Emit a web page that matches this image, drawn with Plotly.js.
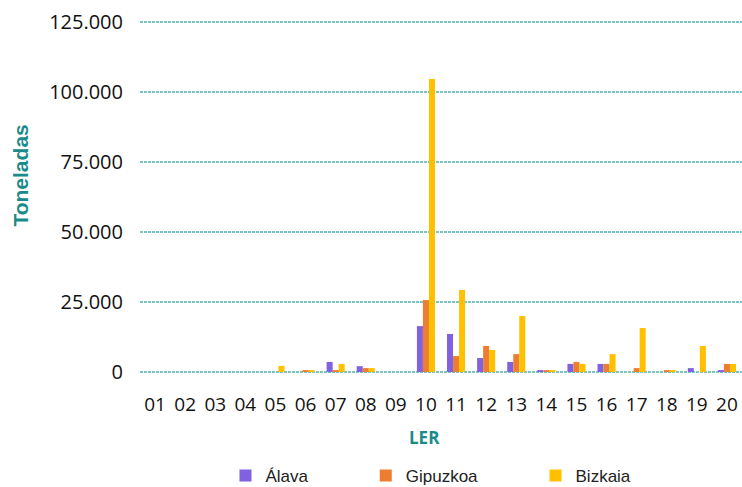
<!DOCTYPE html>
<html>
<head>
<meta charset="utf-8">
<script src="https://cdn.plot.ly/plotly-3.0.1.min.js"></script>
<style>
  html, body { margin: 0; padding: 0; background: #ffffff; }
  #chart { width: 742px; height: 487px; }
</style>
</head>
<body>
<div id="chart"></div>
<script>
// LER waste codes (chapters)
const categories = ['01','02','03','04','05','06','07','08','09','10',
                    '11','12','13','14','15','16','17','18','19','20'];

// Tonnes per territory
const alava    = [0, 0, 0, 0, 0,    0,   3600, 2100, 0, 16400, 13600, 5000, 3600, 700, 2900, 2900, 0,     0,   1400, 700];
const gipuzkoa = [0, 0, 0, 0, 0,    700, 700,  1400, 0, 25700, 5700,  9300, 6400, 700, 3600, 2900, 1400,  700, 0,    2900];
const bizkaia  = [0, 0, 0, 0, 2200, 700, 2900, 1400, 0, 104600, 29300, 7900, 20000, 700, 2900, 6400, 15700, 700, 9300, 2900];

const seriesNames  = ['Álava', 'Gipuzkoa', 'Bizkaia'];
const seriesColors = ['#8061E0', '#ED7D31', '#FFC000'];
const yTicks = [0, 25000, 50000, 75000, 100000, 125000];

const teal = '#1A8A8A';
const values = [alava, gipuzkoa, bizkaia];
const legendIds = ['legend', 'legend2', 'legend3'];

const traces = values.map((v, i) => ({
  type: 'bar',
  name: seriesNames[i],
  x: categories,
  y: v,
  marker: { color: seriesColors[i], line: { width: 0 } },
  legend: legendIds[i],
  hoverinfo: 'x+y+name'
}));

const legendFont = { family: 'Liberation Sans, Arial, sans-serif', size: 17, color: '#222' };
function legendAt(x) {
  return {
    x: x, y: -0.288, xref: 'paper', yref: 'paper',
    xanchor: 'left', yanchor: 'middle',
    orientation: 'h', font: legendFont,
    bgcolor: 'rgba(0,0,0,0)', itemwidth: 30
  };
}

const layout = {
  width: 742,
  height: 487,
  margin: { l: 140, r: 0, t: 20, b: 113, autoexpand: false },
  paper_bgcolor: '#ffffff',
  plot_bgcolor: '#ffffff',
  separators: ',.',
  barmode: 'group',
  bargap: 0.4,
  bargroupgap: 0,
  showlegend: true,
  legend: legendAt(0.142),
  legend2: legendAt(0.375),
  legend3: legendAt(0.657),
  xaxis: {
    type: 'category',
    tickvals: categories,
    ticks: '',
    ticklabelstandoff: 17,
    automargin: false,
    showgrid: false,
    showline: false,
    zeroline: false,
    tickfont: { family: 'Open Sans, sans-serif', size: 19, color: '#111' }
  },
  yaxis: {
    range: [-700, 125700],
    tickvals: yTicks,
    tickformat: ',d',
    ticks: '',
    ticklabelstandoff: 16,
    automargin: false,
    showline: false,
    zeroline: false,
    showgrid: true,
    gridcolor: '#7CC3C3',
    gridwidth: 1.5,
    griddash: '3px,1px',
    tickfont: { family: 'Open Sans, sans-serif', size: 20, color: '#111' }
  },
  annotations: [
    {
      // y-axis title
      text: '<b>Toneladas</b>',
      textangle: -90,
      xref: 'paper', yref: 'paper',
      x: -0.198, y: 0.56,
      xanchor: 'center', yanchor: 'middle',
      showarrow: false,
      font: { family: 'Liberation Sans, Arial, sans-serif', size: 21, color: teal }
    },
    {
      // x-axis title
      text: '<b>LER</b>',
      xref: 'paper', yref: 'paper',
      x: 0.473, y: -0.178,
      xanchor: 'center', yanchor: 'middle',
      showarrow: false,
      font: { family: 'Open Sans, sans-serif', size: 17, color: teal }
    }
  ]
};

Plotly.newPlot('chart', traces, layout, { displayModeBar: false, staticPlot: true });
</script>
</body>
</html>
